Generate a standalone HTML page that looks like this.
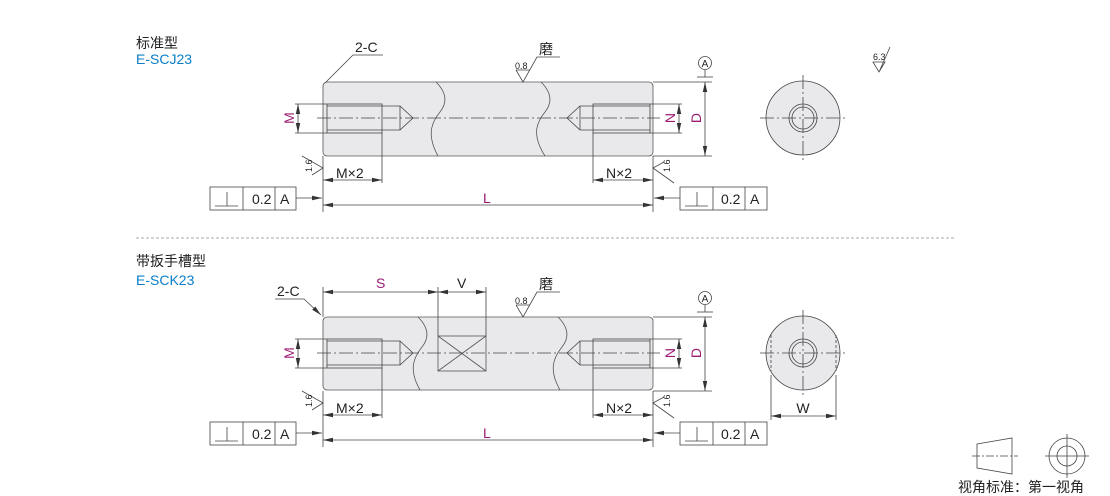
<!DOCTYPE html>
<html><head><meta charset="utf-8"><style>
html,body{margin:0;padding:0;background:#fff;}
svg{display:block;}
text{font-family:"Liberation Sans","Noto Sans CJK SC",sans-serif;}
</style></head><body>
<svg width="1110" height="496" viewBox="0 0 1110 496" xmlns="http://www.w3.org/2000/svg">
<defs>
<marker id="ar" viewBox="0 0 10 6" refX="10" refY="3" markerWidth="10" markerHeight="6" markerUnits="userSpaceOnUse" orient="auto-start-reverse"><path d="M0,0.8 L10,3 L0,5.2 Z" fill="#333"/></marker>
<g id="holes" fill="none" stroke="#444" stroke-width="0.8">
  <!-- left hole -->
  <rect x="327" y="104" width="55" height="29" />
  <path d="M327,106 H400 L413,118 L400,130 H327"/>
  <line x1="400" y1="106" x2="400" y2="130"/>
  <!-- right hole -->
  <rect x="593" y="104" width="57" height="29"/>
  <path d="M650,106 H580 L567,118 L580,130 H650"/>
  <line x1="580" y1="106" x2="580" y2="130"/>
  <!-- M ext -->
  <line x1="295" y1="104" x2="327" y2="104"/><line x1="295" y1="133" x2="327" y2="133"/>
  <line x1="650" y1="104" x2="682" y2="104"/><line x1="650" y1="133" x2="682" y2="133"/>
  <line x1="298" y1="104" x2="298" y2="133" marker-start="url(#ar)" marker-end="url(#ar)"/>
  <line x1="679" y1="104" x2="679" y2="133" marker-start="url(#ar)" marker-end="url(#ar)"/>
  <!-- D -->
  <line x1="653" y1="82" x2="712" y2="82"/><line x1="653" y1="156" x2="712" y2="156"/>
  <line x1="705" y1="82" x2="705" y2="156" marker-start="url(#ar)" marker-end="url(#ar)"/>
  <!-- A datum -->
  <circle cx="705" cy="63" r="6.5"/>
  <line x1="705" y1="70" x2="705" y2="77"/><line x1="697" y1="77" x2="713" y2="77"/>
  <!-- Mx2 Nx2 -->
  <line x1="382" y1="133" x2="382" y2="183"/><line x1="593" y1="133" x2="593" y2="183"/>
  <line x1="323" y1="156" x2="323" y2="212"/><line x1="653" y1="156" x2="653" y2="212"/>
  <line x1="323" y1="180" x2="382" y2="180" marker-start="url(#ar)" marker-end="url(#ar)"/>
  <line x1="593" y1="180" x2="653" y2="180" marker-start="url(#ar)" marker-end="url(#ar)"/>
  <line x1="323" y1="205" x2="653" y2="205" marker-start="url(#ar)" marker-end="url(#ar)"/>
  <!-- roughness 1.6 -->
  <path d="M302,156 L323,168 L312,175"/>
  <path d="M674,183 L653,168 L664,162"/>
  <!-- frames -->
  <rect x="210" y="187" width="86" height="23"/><line x1="243" y1="187" x2="243" y2="210"/><line x1="275" y1="187" x2="275" y2="210"/>
  <line x1="215" y1="206" x2="238" y2="206"/><line x1="227" y1="192" x2="227" y2="206"/>
  <line x1="296" y1="198" x2="322" y2="198" marker-end="url(#ar)"/>
  <rect x="680" y="187" width="87" height="23"/><line x1="713" y1="187" x2="713" y2="210"/><line x1="745" y1="187" x2="745" y2="210"/>
  <line x1="685" y1="206" x2="708" y2="206"/><line x1="697" y1="192" x2="697" y2="206"/>
  <line x1="680" y1="198" x2="654" y2="198" marker-end="url(#ar)"/>
  <!-- 0.8 mark -->
  <path d="M516,70 L530,70 M516,70 L523,82 L537,57 H560"/>
</g>
</defs>

<!-- Titles -->
<text x="136" y="48" font-size="14" fill="#222">标准型</text>
<text x="136" y="64" font-size="14" fill="#0a7fc8">E-SCJ23</text>
<text x="136" y="266" font-size="14" fill="#222">带扳手槽型</text>
<text x="136" y="285" font-size="14" fill="#0a7fc8">E-SCK23</text>
<line x1="136" y1="238" x2="956" y2="238" stroke="#aaa" stroke-width="1" stroke-dasharray="3,2"/>

<!-- TOP body -->
<rect x="323" y="82" width="330" height="74" rx="4" fill="#e9e9ec" stroke="#555" stroke-width="0.8"/>
<g fill="none" stroke="#555" stroke-width="0.8">
<path d="M436,82 C446,92 448,102 440,112 C432,122 426,134 438,156"/>
<path d="M541,82 C551,92 553,102 545,112 C537,122 531,134 545,156"/>
</g>
<g fill="#e9e9ec"><rect x="328" y="105" width="53" height="27"/><rect x="594" y="105" width="55" height="27"/></g>
<use href="#holes"/>
<line x1="317" y1="118" x2="660" y2="118" stroke="#444" stroke-width="0.8" stroke-dasharray="14,3,2,3"/>
<path d="M325,83 L353,55 H383" fill="none" stroke="#444" stroke-width="0.8"/>
<text x="355" y="52" font-size="14" fill="#222">2-C</text>
<text x="515" y="69" font-size="9" fill="#222">0.8</text>
<text x="539" y="54" font-size="14" fill="#222">磨</text>
<text x="705" y="67" font-size="10" fill="#222" text-anchor="middle">A</text>
<g fill="#9b1a72" font-size="14">
<text transform="translate(294,118) rotate(-90)" text-anchor="middle">M</text>
<text transform="translate(675,118) rotate(-90)" text-anchor="middle">N</text>
<text transform="translate(701,118) rotate(-90)" text-anchor="middle">D</text>
<text x="483" y="203">L</text>
</g>
<text x="336" y="178" font-size="14" fill="#222">M×2</text>
<text x="606" y="178" font-size="14" fill="#222">N×2</text>
<text transform="translate(312,172) rotate(-90)" font-size="9" fill="#222">1.6</text>
<text transform="translate(670,172) rotate(-90)" font-size="9" fill="#222">1.6</text>
<text x="252" y="204" font-size="14" fill="#222">0.2</text><text x="280" y="204" font-size="14" fill="#222">A</text>
<text x="721" y="204" font-size="14" fill="#222">0.2</text><text x="750" y="204" font-size="14" fill="#222">A</text>

<!-- BOTTOM body -->
<g transform="translate(0,235)">
<rect x="323" y="82" width="330" height="73" rx="4" fill="#e9e9ec" stroke="#555" stroke-width="0.8"/>
<g fill="none" stroke="#555" stroke-width="0.8">
<path d="M418,82 C428,92 430,102 422,112 C414,122 408,134 420,155"/>
<path d="M558,82 C568,92 570,102 562,112 C554,122 548,134 560,155"/>
<rect x="438" y="101" width="48" height="35"/>
<path d="M438,101 L486,136 M486,101 L438,136"/>
</g>
<g fill="#e9e9ec"><rect x="328" y="105" width="53" height="27"/><rect x="594" y="105" width="55" height="27"/></g>
<use href="#holes"/>
<line x1="317" y1="118" x2="660" y2="118" stroke="#444" stroke-width="0.8" stroke-dasharray="14,3,2,3"/>
</g>
<g fill="none" stroke="#444" stroke-width="0.8">
<line x1="323" y1="317" x2="323" y2="287"/><line x1="438" y1="336" x2="438" y2="287"/><line x1="486" y1="336" x2="486" y2="287"/>
<line x1="323" y1="292" x2="438" y2="292" marker-start="url(#ar)" marker-end="url(#ar)"/>
<line x1="438" y1="292" x2="486" y2="292" marker-start="url(#ar)" marker-end="url(#ar)"/>
<path d="M275,299 H304 L321,315" marker-end="url(#ar)"/>
</g>
<text x="277" y="296" font-size="14" fill="#222">2-C</text>
<text x="376" y="288" font-size="14" fill="#9b1a72">S</text>
<text x="457" y="288" font-size="14" fill="#222">V</text>
<text x="515" y="304" font-size="9" fill="#222">0.8</text>
<text x="539" y="289" font-size="14" fill="#222">磨</text>
<text x="705" y="302" font-size="10" fill="#222" text-anchor="middle">A</text>
<g fill="#9b1a72" font-size="14">
<text transform="translate(294,353) rotate(-90)" text-anchor="middle">M</text>
<text transform="translate(675,353) rotate(-90)" text-anchor="middle">N</text>
<text transform="translate(701,353) rotate(-90)" text-anchor="middle">D</text>
<text x="483" y="438">L</text>
</g>
<text x="336" y="413" font-size="14" fill="#222">M×2</text>
<text x="606" y="413" font-size="14" fill="#222">N×2</text>
<text transform="translate(312,407) rotate(-90)" font-size="9" fill="#222">1.6</text>
<text transform="translate(670,407) rotate(-90)" font-size="9" fill="#222">1.6</text>
<text x="252" y="439" font-size="14" fill="#222">0.2</text><text x="280" y="439" font-size="14" fill="#222">A</text>
<text x="721" y="439" font-size="14" fill="#222">0.2</text><text x="750" y="439" font-size="14" fill="#222">A</text>

<!-- End views -->
<g fill="none" stroke="#444" stroke-width="0.8">
<circle cx="803" cy="118" r="37" fill="#e9e9ec"/>
<circle cx="803" cy="118" r="14"/><circle cx="803" cy="118" r="11"/>
<path d="M760,118 H848 M803,75 V162" stroke-dasharray="14,3,2,3"/>
<circle cx="803" cy="353" r="37" fill="#e9e9ec"/>
<circle cx="803" cy="353" r="14"/><circle cx="803" cy="353" r="11"/>
<path d="M760,353 H848 M803,310 V397" stroke-dasharray="14,3,2,3"/>
<path d="M771,335 V371 M836,335 V371" stroke-dasharray="3,2"/>
<line x1="771" y1="375" x2="771" y2="420"/><line x1="836" y1="375" x2="836" y2="420"/>
<line x1="771" y1="416" x2="836" y2="416" marker-start="url(#ar)" marker-end="url(#ar)"/>
<path d="M873,62 H885 L879,72 Z M879,72 L890,47"/>
<!-- legend -->
<path d="M977,444 L1012,438 V474 L977,468 Z"/>
<path d="M972,456 H1018" stroke-dasharray="8,2,2,2"/>
<circle cx="1067" cy="456" r="18"/><circle cx="1067" cy="456" r="10"/>
<path d="M1045,456 H1089 M1067,434 V478"/>
</g>
<text x="803" y="413" font-size="14" fill="#222" text-anchor="middle">W</text>
<text x="873" y="60" font-size="9" fill="#222">6.3</text>
<text x="958" y="492" font-size="14" fill="#222">视角标准：第一视角</text>
</svg>
</body></html>
